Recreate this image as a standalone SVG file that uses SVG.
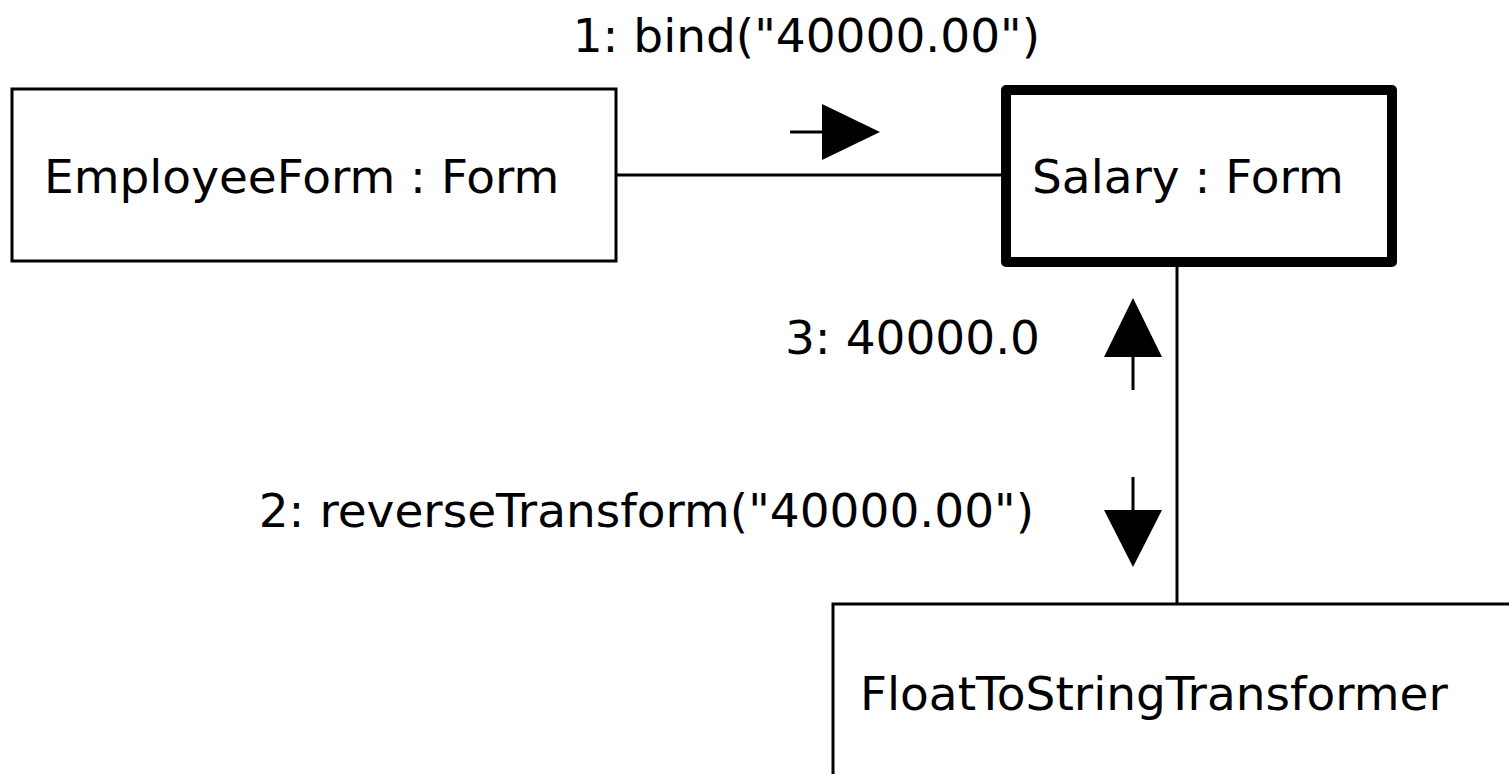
<svg xmlns="http://www.w3.org/2000/svg" width="1509" height="774" viewBox="0 0 1509 774">
  <style>
    .box { fill: #fff; stroke: #000; stroke-width: 3; }
    .active { fill: #fff; stroke: #000; stroke-width: 10; stroke-linejoin: round; }
    .lbl { font-family: "DejaVu Sans", sans-serif; font-size: 47px; fill: #000; }
    .link { stroke: #000; stroke-width: 3; fill: none; }
    .head { fill: #000; }
  </style>
  <rect width="1509" height="774" fill="#fff"/>

  <g id="connectors">
    <line class="link" x1="616" y1="175" x2="1004" y2="175"/>
    <line class="link" x1="1177" y1="264" x2="1177" y2="603"/>
    <!-- 1: bind -->
    <line class="link" x1="790" y1="132" x2="826" y2="132"/>
    <polygon class="head" points="822,104 880,132 822,160"/>
    <!-- 3: return value -->
    <line class="link" x1="1133" y1="355" x2="1133" y2="390"/>
    <polygon class="head" points="1104,357 1133,298 1162,357"/>
    <!-- 2: reverseTransform -->
    <line class="link" x1="1133" y1="477" x2="1133" y2="512"/>
    <polygon class="head" points="1104,510 1133,567 1162,510"/>
    <text class="lbl" x="1040" y="52" text-anchor="end">1: bind("40000.00")</text>
    <text class="lbl" x="1040" y="354" text-anchor="end">3: 40000.0</text>
    <text class="lbl" x="1034" y="527" text-anchor="end">2: reverseTransform("40000.00")</text>
  </g>

  <g id="employee-form">
    <rect class="box" x="12" y="89" width="604" height="172"/>
    <text class="lbl" x="44" y="193">EmployeeForm : Form</text>
  </g>

  <g id="salary-form">
    <rect class="active" x="1006" y="90" width="386" height="172"/>
    <text class="lbl" x="1032" y="193">Salary : Form</text>
  </g>

  <g id="float-to-string">
    <rect class="box" x="833" y="604" width="690" height="200"/>
    <text class="lbl" x="860" y="710">FloatToStringTransformer</text>
  </g>
</svg>
